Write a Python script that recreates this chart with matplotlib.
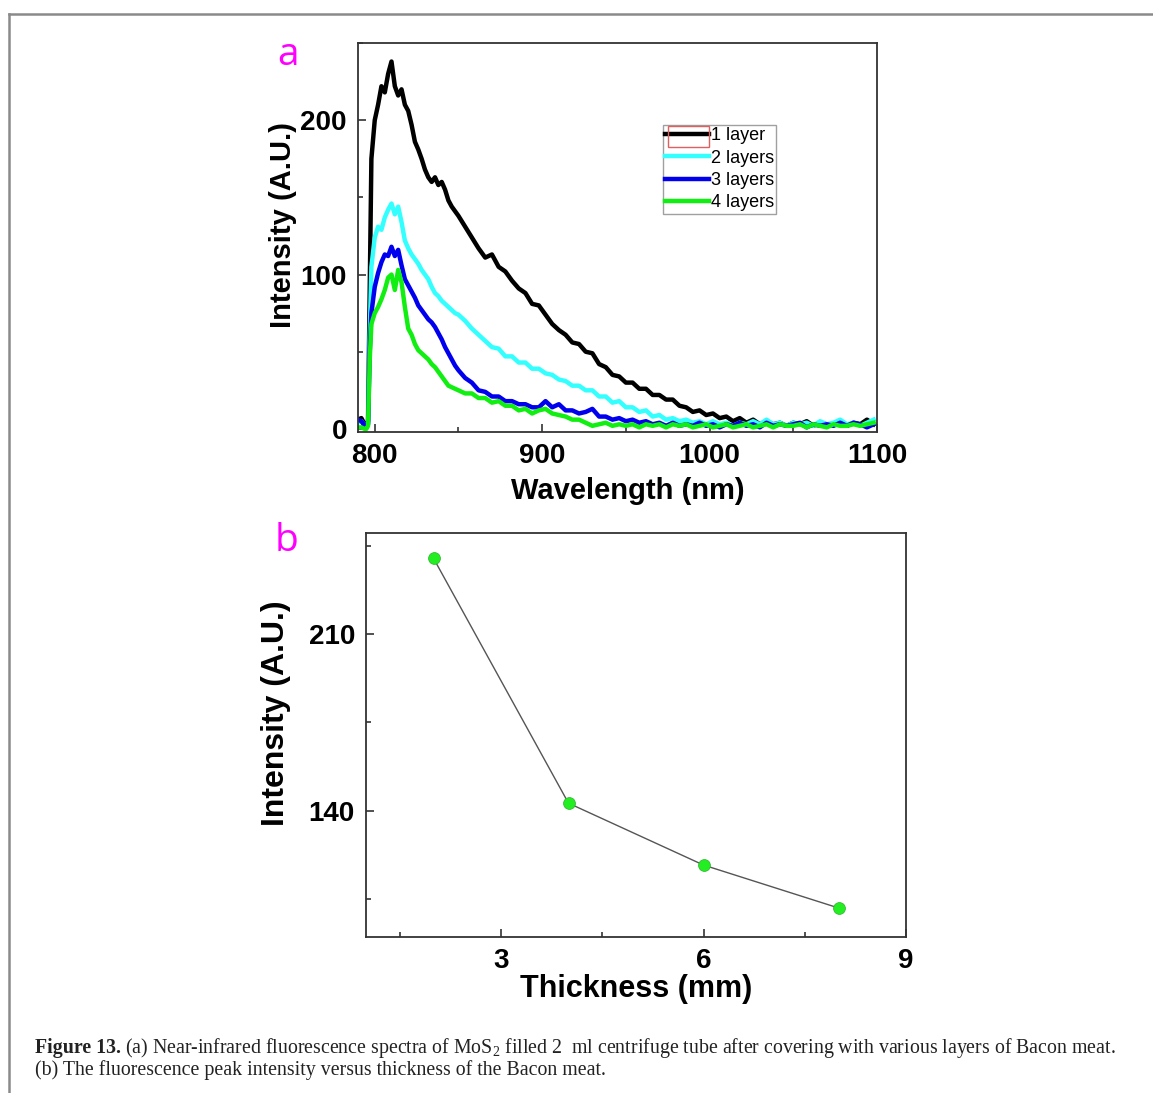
import numpy as np
import matplotlib.pyplot as plt
from matplotlib.lines import Line2D
from matplotlib.patches import Rectangle
from matplotlib.ticker import MultipleLocator

plt.rcParams['font.family'] = ['Liberation Sans', 'DejaVu Sans']
plt.rcParams['mathtext.fontset'] = 'custom'
plt.rcParams['mathtext.rm'] = 'Liberation Serif'

# Panel a: NIR fluorescence spectra
wl_start = [790, 792, 794, 795, 796, 797, 798]
wavelength = np.concatenate([wl_start, np.arange(800, 851, 2), np.arange(854, 1099, 4)])

layer1 = [6, 7, 3, 2, 5, 90, 175,
          200, 210, 222, 218, 230, 238, 222, 216, 220, 210, 206, 197, 186, 181,
          175, 168, 163, 160, 163, 158, 160, 155, 148, 144, 141, 138,
          131, 124, 117, 111, 113, 105, 102, 96, 91, 88, 81, 80, 74, 68, 64, 61,
          56, 55, 50, 49, 42, 40, 35, 34, 30, 30, 26, 26, 22, 22, 19, 19, 15, 14,
          11, 12, 9, 10, 7, 8, 5, 7, 4, 6, 3, 5, 3, 4, 2, 4, 3, 5, 2, 4, 3, 3,
          5, 2, 4, 3, 6, 3]
layer2 = [4, 5, 2, 1, 4, 60, 105,
          124, 131, 129, 137, 142, 146, 139, 144, 134, 122, 117, 113, 110, 107,
          103, 100, 97, 92, 88, 86, 83, 81, 79, 77, 75, 74,
          70, 65, 61, 57, 53, 52, 47, 47, 43, 43, 39, 39, 36, 35, 32, 31,
          28, 28, 25, 25, 21, 21, 17, 18, 14, 14, 11, 12, 8, 9, 6, 7, 5, 6,
          4, 5, 3, 5, 3, 4, 2, 4, 3, 5, 3, 6, 3, 4, 2, 4, 3, 4, 2, 5, 3, 4,
          6, 3, 4, 2, 4, 6]
layer3 = [6, 5, 2, 1, 3, 50, 75,
          92, 101, 108, 113, 112, 118, 112, 116, 106, 97, 93, 89, 85, 80,
          77, 74, 71, 69, 66, 62, 58, 53, 49, 45, 41, 38,
          33, 30, 25, 24, 21, 21, 18, 18, 16, 16, 14, 14, 18, 14, 16, 12,
          12, 10, 11, 13, 8, 8, 6, 7, 5, 6, 4, 5, 3, 4, 2, 4, 2, 3,
          2, 4, 2, 3, 1, 3, 2, 4, 2, 3, 1, 4, 2, 3, 2, 3, 4, 1, 3, 2,
          3, 2, 4, 2, 4, 3, 1, 3]
layer4 = [1, 1, 0, 0, 2, 45, 68,
          75, 79, 84, 90, 98, 100, 90, 103, 95, 79, 65, 61, 55, 51,
          49, 47, 45, 42, 40, 37, 34, 31, 28, 27, 26, 25,
          23, 23, 20, 20, 17, 18, 15, 15, 12, 13, 10, 12, 13, 10, 9, 8,
          6, 6, 4, 2, 3, 4, 2, 3, 2, 3, 1, 3, 2, 3, 1, 3, 2, 3,
          1, 2, 3, 1, 2, 3, 1, 2, 3, 1, 2, 3, 1, 3, 2, 2, 3, 1, 3, 2,
          1, 3, 2, 2, 3, 2, 3, 4]
layer_labels = ['1 layer', '2 layers', '3 layers', '4 layers']
layer_colors = ['black', '#33ffff', '#0000ee', '#11ee11']

# Panel b: peak intensity vs thickness
thickness = [2, 4, 6, 8]
peak_intensity = [240, 143, 118.5, 101.5]

W, H = 1153, 1093
fig = plt.figure(figsize=(W / 100, H / 100), dpi=100)

def ax_rect(left, top, right, bottom):
    return [left / W, 1 - bottom / H, (right - left) / W, (bottom - top) / H]

def style_axes(ax):
    for s in ax.spines.values():
        s.set_color('#333333')
        s.set_linewidth(1.3)
    ax.tick_params(which='both', direction='in', color='#333333', width=1.2)
    ax.tick_params(which='major', length=6, labelsize=20, pad=8)
    ax.tick_params(which='minor', length=3.5)
    for t in ax.get_xticklabels() + ax.get_yticklabels():
        t.set_fontweight('bold')

# ---- panel a
ax1 = fig.add_axes(ax_rect(358, 43, 877, 432))
for ys, lab, col in zip([layer1, layer2, layer3, layer4], layer_labels, layer_colors):
    ax1.plot(wavelength, ys, color=col, lw=3.2, label=lab)
ax1.set_xlim(790, 1100)
ax1.set_ylim(-2, 250)
ax1.xaxis.set_major_locator(MultipleLocator(100))
ax1.xaxis.set_minor_locator(MultipleLocator(50))
ax1.yaxis.set_major_locator(MultipleLocator(100))
ax1.yaxis.set_minor_locator(MultipleLocator(50))
style_axes(ax1)
ax1.set_xlabel('Wavelength (nm)', fontsize=21, fontweight='bold')
ax1.xaxis.set_label_coords(0.52, -0.115)
ax1.set_ylabel('Intensity (A.U.)', fontsize=21, fontweight='bold')
ax1.yaxis.set_label_coords(-0.117, 0.533)
leg = ax1.legend(loc='upper left', bbox_to_anchor=(663 / W, 1 - 125 / H),
                 bbox_transform=fig.transFigure, fontsize=13, frameon=True,
                 fancybox=False, edgecolor='#888888', handlelength=2.4,
                 handletextpad=0.12, borderpad=0.12, labelspacing=0.3,
                 borderaxespad=0)
leg.get_frame().set_linewidth(1)
fig.add_artist(Rectangle((668 / W, 1 - 147 / H), 41 / W, 21 / H, transform=fig.transFigure,
                         fill=False, edgecolor='#e06060', lw=1))
fig.text(288 / W, 1 - 55 / H, 'a', color='#ff00ff', fontsize=28, family='Open Sans',
         ha='center', va='center')

# ---- panel b
ax2 = fig.add_axes(ax_rect(366, 533, 906, 937))
ax2.plot(thickness, peak_intensity, color='#555555', lw=1)
ax2.plot(thickness, peak_intensity, 'o', ms=8.5, mfc='#22ee22', mec='#33bb33', mew=0.6)
ax2.set_xlim(1, 9)
ax2.set_ylim(90, 250)
ax2.xaxis.set_major_locator(MultipleLocator(3))
ax2.xaxis.set_minor_locator(MultipleLocator(1.5))
ax2.yaxis.set_major_locator(MultipleLocator(70))
ax2.yaxis.set_minor_locator(MultipleLocator(35))
style_axes(ax2)
ax2.set_xlabel('Thickness (mm)', fontsize=22, fontweight='bold', labelpad=0)
ax2.set_ylabel('Intensity (A.U.)', fontsize=23, fontweight='bold')
ax2.yaxis.set_label_coords(-0.139, 0.555)
fig.text(287 / W, 1 - 541 / H, 'b', color='#ff00ff', fontsize=28, family='Open Sans',
         ha='center', va='center')

# ---- frame lines
fig.add_artist(Line2D([9 / W, 1], [1 - 14 / H, 1 - 14 / H], color='#8a8a8a', lw=1.8,
                      transform=fig.transFigure))
fig.add_artist(Line2D([9 / W, 9 / W], [0, 1 - 14 / H], color='#8a8a8a', lw=1.8,
                      transform=fig.transFigure))

# ---- caption
cap_font = dict(family='Liberation Serif', fontsize=14.3, color='#222222')
t_bold = fig.text(35 / W, 1 - 1048 / H, 'Figure 13.', fontweight='bold', va='center', **cap_font)
fig.canvas.draw()
bb = t_bold.get_window_extent()
fig.text(bb.x1 / W + 4 / W, 1 - 1048 / H,
         '(a) Near-infrared fluorescence spectra of MoS$_2$ filled 2  ml centrifuge tube '
         'after covering with various layers of Bacon meat.', va='center', **cap_font)
fig.text(35 / W, 1 - 1070 / H,
         '(b) The fluorescence peak intensity versus thickness of the Bacon meat.',
         va='center', **cap_font)

fig.savefig('out.png', dpi=100)
